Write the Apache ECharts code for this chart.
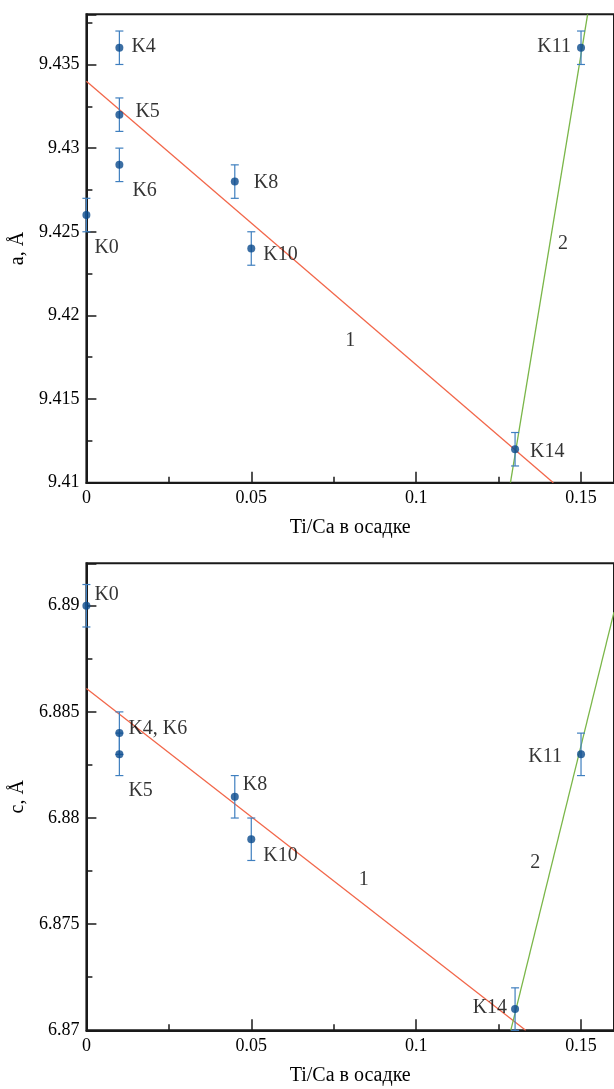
<!DOCTYPE html>
<html><head><meta charset="utf-8">
<script src="https://cdn.jsdelivr.net/npm/echarts@6/dist/echarts.min.js"></script>
<style>html,body{margin:0;padding:0;background:#fff}#c{width:614px;height:1089px}</style>
</head><body><div id="c"></div>
<script>
// ---- data ----
const samplesA = ['K0', 'K4', 'K5', 'K6', 'K8', 'K10', 'K11', 'K14'];
const tiCaA    = [0, 0.01, 0.01, 0.01, 0.045, 0.05, 0.15, 0.13];
const paramA   = [9.426, 9.436, 9.432, 9.429, 9.428, 9.424, 9.436, 9.412];
const errA     = [0.001, 0.001, 0.001, 0.001, 0.001, 0.001, 0.001, 0.001];

const samplesC = ['K0', 'K4, K6', 'K5', 'K8', 'K10', 'K11', 'K14'];
const tiCaC    = [0, 0.01, 0.01, 0.045, 0.05, 0.15, 0.13];
const paramC   = [6.89, 6.884, 6.883, 6.881, 6.879, 6.883, 6.871];
const errC     = [0.001, 0.001, 0.001, 0.001, 0.001, 0.001, 0.001];

// fitted lines (end points)
const fit1A_x = [0, 0.1416],      fit1A_y = [9.434, 9.41];
const fit2A_x = [0.1286, 0.152],  fit2A_y = [9.41, 9.438];
const fit1C_x = [0, 0.1332],      fit1C_y = [6.8861, 6.87];
const fit2C_x = [0.1287, 0.16],   fit2C_y = [6.87, 6.8897];

// line numbers
const lineTags   = ['1', '2'];
const lineTagA_x = [0.08, 0.1445],  lineTagA_y = [9.4185, 9.4243];
const lineTagC_x = [0.0841, 0.1361], lineTagC_y = [6.8771, 6.8779];

// axes
const xRange = [0, 0.16], xStep = 0.05;
const aRange = [9.41, 9.438], cRange = [6.87, 6.892], yStep = 0.005;
const xName = 'Ti/Ca в осадке';
const aName = 'a, Å', cName = 'c, Å';

// ---- label placement (layout, not data) ----
const placeA = {
  'K0': ['right', [4, 33]], 'K4': ['right', [8, -1]], 'K5': ['right', [12, -3]],
  'K6': ['right', [9, 26]], 'K8': ['right', [15, 1]], 'K10': ['right', [8, 6]],
  'K11': ['left', [-6, -1]], 'K14': ['right', [11, 3]]
};
const placeC = {
  'K0': ['right', [4, -11]], 'K4, K6': ['right', [5, -4]], 'K5': ['right', [5, 36]],
  'K8': ['right', [4, -12]], 'K10': ['right', [8, 16]], 'K11': ['left', [-15, 2]],
  'K14': ['left', [-4, -1]]
};

const FONT = "'Liberation Serif','Times New Roman',serif";
const TXT = '#000';
const AXC = '#1a1a1a';
const PT = '#0a4a8c', ERR = '#3f7fbf', RED = '#f2674a', GREEN = '#7ab648';

function fmt(v) { return String(+(+v).toFixed(4)); }

function xAxisCfg(gi) {
  return {
    type: 'value', gridIndex: gi, min: xRange[0], max: xRange[1], interval: xStep,
    name: xName, nameLocation: 'middle', nameGap: 35,
    nameTextStyle: { fontFamily: FONT, fontSize: 20, color: TXT },
    axisLine: { show: true, onZero: false, lineStyle: { color: AXC, width: 2 } },
    axisTick: { show: true, inside: true, length: 11, lineStyle: { color: AXC, width: 1.5 } },
    minorTick: { show: true, splitNumber: 2, length: 6, lineStyle: { color: AXC, width: 1.5 } },
    axisLabel: { fontFamily: FONT, fontSize: 18, color: TXT, margin: 7, showMaxLabel: false, formatter: fmt },
    splitLine: { show: false }, minorSplitLine: { show: false }
  };
}
function yAxisCfg(gi, range, name) {
  return {
    type: 'value', gridIndex: gi, min: range[0], max: range[1], interval: yStep,
    name: name, nameLocation: 'middle', nameGap: 51,
    nameTextStyle: { fontFamily: FONT, fontSize: 20, color: TXT },
    axisLine: { show: true, onZero: false, lineStyle: { color: AXC, width: 2 } },
    axisTick: { show: true, inside: true, length: 10, lineStyle: { color: AXC, width: 1.5 } },
    minorTick: { show: true, splitNumber: 2, length: 6, lineStyle: { color: AXC, width: 1.5 } },
    axisLabel: { fontFamily: FONT, fontSize: 18, color: TXT, margin: 7, showMaxLabel: false, formatter: fmt },
    splitLine: { show: false }, minorSplitLine: { show: false }
  };
}

function errRender(params, api) {
  const x = api.value(0), y = api.value(1), e = api.value(2);
  const t = api.coord([x, y + e]), b = api.coord([x, y - e]);
  const cap = 4;
  const style = { stroke: ERR, lineWidth: 1.2 };
  return {
    type: 'group', children: [
      { type: 'line', shape: { x1: t[0], y1: t[1], x2: b[0], y2: b[1] }, style },
      { type: 'line', shape: { x1: t[0] - cap, y1: t[1], x2: t[0] + cap, y2: t[1] }, style },
      { type: 'line', shape: { x1: b[0] - cap, y1: b[1], x2: b[0] + cap, y2: b[1] }, style }
    ]
  };
}

function panelSeries(gi, samples, xs, ys, es, place, f1x, f1y, f2x, f2y, tx, ty) {
  const out = [];
  out.push({
    type: 'line', xAxisIndex: gi, yAxisIndex: gi, clip: true, symbol: 'none', silent: true,
    lineStyle: { color: RED, width: 1.3 }, z: 2,
    data: f1x.map((x, i) => [x, f1y[i]])
  });
  out.push({
    type: 'line', xAxisIndex: gi, yAxisIndex: gi, clip: true, symbol: 'none', silent: true,
    lineStyle: { color: GREEN, width: 1.3 }, z: 2,
    data: f2x.map((x, i) => [x, f2y[i]])
  });
  out.push({
    type: 'custom', xAxisIndex: gi, yAxisIndex: gi, renderItem: errRender, z: 3, silent: true,
    data: xs.map((x, i) => [x, ys[i], es[i]])
  });
  out.push({
    type: 'scatter', xAxisIndex: gi, yAxisIndex: gi, symbol: 'circle', symbolSize: 8, z: 4,
    itemStyle: { color: PT },
    data: xs.map((x, i) => ({
      value: [x, ys[i]], name: samples[i],
      label: {
        show: true, formatter: samples[i], position: place[samples[i]][0], distance: 0,
        offset: place[samples[i]][1], fontFamily: FONT, fontSize: 20, color: TXT
      }
    }))
  });
  out.push({
    type: 'scatter', xAxisIndex: gi, yAxisIndex: gi, symbolSize: 0, z: 4, silent: true,
    data: tx.map((x, i) => ({
      value: [x, ty[i]],
      label: { show: true, formatter: lineTags[i], position: 'inside', fontFamily: FONT, fontSize: 20, color: TXT }
    }))
  });
  return out;
}

const chart = echarts.init(document.getElementById('c'), null, { renderer: 'canvas' });
chart.setOption({
  animation: false,
  backgroundColor: '#fff',
  grid: [
    { left: 84, top: 14.3, width: 534, height: 468.4, show: true, borderColor: AXC, borderWidth: 2, containLabel: false },
    { left: 84, top: 563.3, width: 538, height: 467, show: true, borderColor: AXC, borderWidth: 2, containLabel: false }
  ],
  xAxis: [xAxisCfg(0), xAxisCfg(1)],
  yAxis: [yAxisCfg(0, aRange, aName), yAxisCfg(1, cRange, cName)],
  series: [].concat(
    panelSeries(0, samplesA, tiCaA, paramA, errA, placeA, fit1A_x, fit1A_y, fit2A_x, fit2A_y, lineTagA_x, lineTagA_y),
    panelSeries(1, samplesC, tiCaC, paramC, errC, placeC, fit1C_x, fit1C_y, fit2C_x, fit2C_y, lineTagC_x, lineTagC_y)
  )
});
</script></body></html>
